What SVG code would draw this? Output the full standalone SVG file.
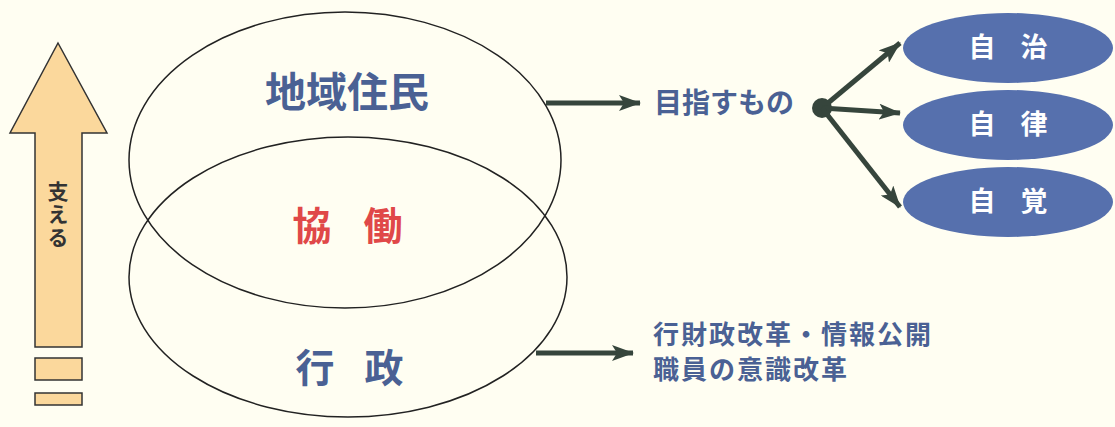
<svg xmlns="http://www.w3.org/2000/svg" width="1115" height="427" viewBox="0 0 1115 427">
<defs>
<style>
.jp{font-family:"Noto Sans CJK JP","Noto Sans CJK SC",sans-serif;font-weight:700}
.blue{fill:#4a6194}
.ring{fill:none;stroke:#222;stroke-width:1.5}
.conn{stroke:#36453c;stroke-width:5;fill:none}
.head{fill:#36453c}
.goal{fill:#5670ad}
.gt{fill:#fff;font-size:27px}
.up{fill:#fbd89c;stroke:#333;stroke-width:1.5}
.rf{font-size:26px;letter-spacing:2px}
</style>
<marker id="ah" viewBox="0 0 22 16" refX="21" refY="8" markerWidth="22" markerHeight="16" markerUnits="userSpaceOnUse" orient="auto">
<path d="M0,0 L22,8 L0,16 L5,8 Z" class="head"/>
</marker>
</defs>
<rect width="1115" height="427" fill="#fffef2"/>
<g id="support">
<path class="up" d="M58,43 L107,133 L82,133 L82,347 L35,347 L35,133 L10,133 Z"/>
<rect class="up" x="35" y="358" width="47" height="22"/>
<rect class="up" x="35" y="393" width="47" height="12"/>
<text class="jp" x="58" y="181" font-size="21" fill="#333" style="writing-mode:vertical-rl;letter-spacing:2px">支える</text>
</g>
<g id="residents">
<ellipse class="ring" cx="345" cy="160" rx="216" ry="148"/>
<text class="jp blue" x="347" y="107" font-size="41" text-anchor="middle">地域住民</text>
</g>
<g id="admin">
<ellipse class="ring" cx="348" cy="277" rx="219" ry="140"/>
<text class="jp blue" x="315" y="382" font-size="39" text-anchor="middle">行</text>
<text class="jp blue" x="384" y="382" font-size="39" text-anchor="middle">政</text>
</g>
<g id="collab">
<text class="jp" x="312" y="240" font-size="39" fill="#e04848" text-anchor="middle">協</text>
<text class="jp" x="383" y="240" font-size="39" fill="#e04848" text-anchor="middle">働</text>
</g>
<g id="aim">
<text class="jp blue" x="654" y="113" font-size="28">目指すもの</text>
<circle cx="822" cy="108" r="10" fill="#36453c"/>
</g>
<g id="jichi">
<ellipse class="goal" cx="1008" cy="48" rx="105" ry="35"/>
<text class="jp gt" x="982" y="57" text-anchor="middle">自</text>
<text class="jp gt" x="1034" y="57" text-anchor="middle">治</text>
</g>
<g id="jiritsu">
<ellipse class="goal" cx="1008" cy="125" rx="105" ry="35"/>
<text class="jp gt" x="982" y="134" text-anchor="middle">自</text>
<text class="jp gt" x="1034" y="134" text-anchor="middle">律</text>
</g>
<g id="jikaku">
<ellipse class="goal" cx="1008" cy="202" rx="105" ry="35"/>
<text class="jp gt" x="982" y="211" text-anchor="middle">自</text>
<text class="jp gt" x="1034" y="211" text-anchor="middle">覚</text>
</g>
<g id="reform">
<text class="jp blue rf" x="653" y="344">行財政改革・情報公開</text>
<text class="jp blue rf" x="653" y="379">職員の意識改革</text>
</g>
<g id="connectors">
<line class="conn" x1="546" y1="103" x2="640" y2="103" marker-end="url(#ah)"/>
<line class="conn" x1="536" y1="353" x2="633" y2="353" marker-end="url(#ah)"/>
<line class="conn" x1="822" y1="108" x2="900" y2="43" marker-end="url(#ah)"/>
<line class="conn" x1="822" y1="108" x2="900" y2="113" marker-end="url(#ah)"/>
<line class="conn" x1="822" y1="108" x2="900" y2="207" marker-end="url(#ah)"/>
</g>
</svg>
